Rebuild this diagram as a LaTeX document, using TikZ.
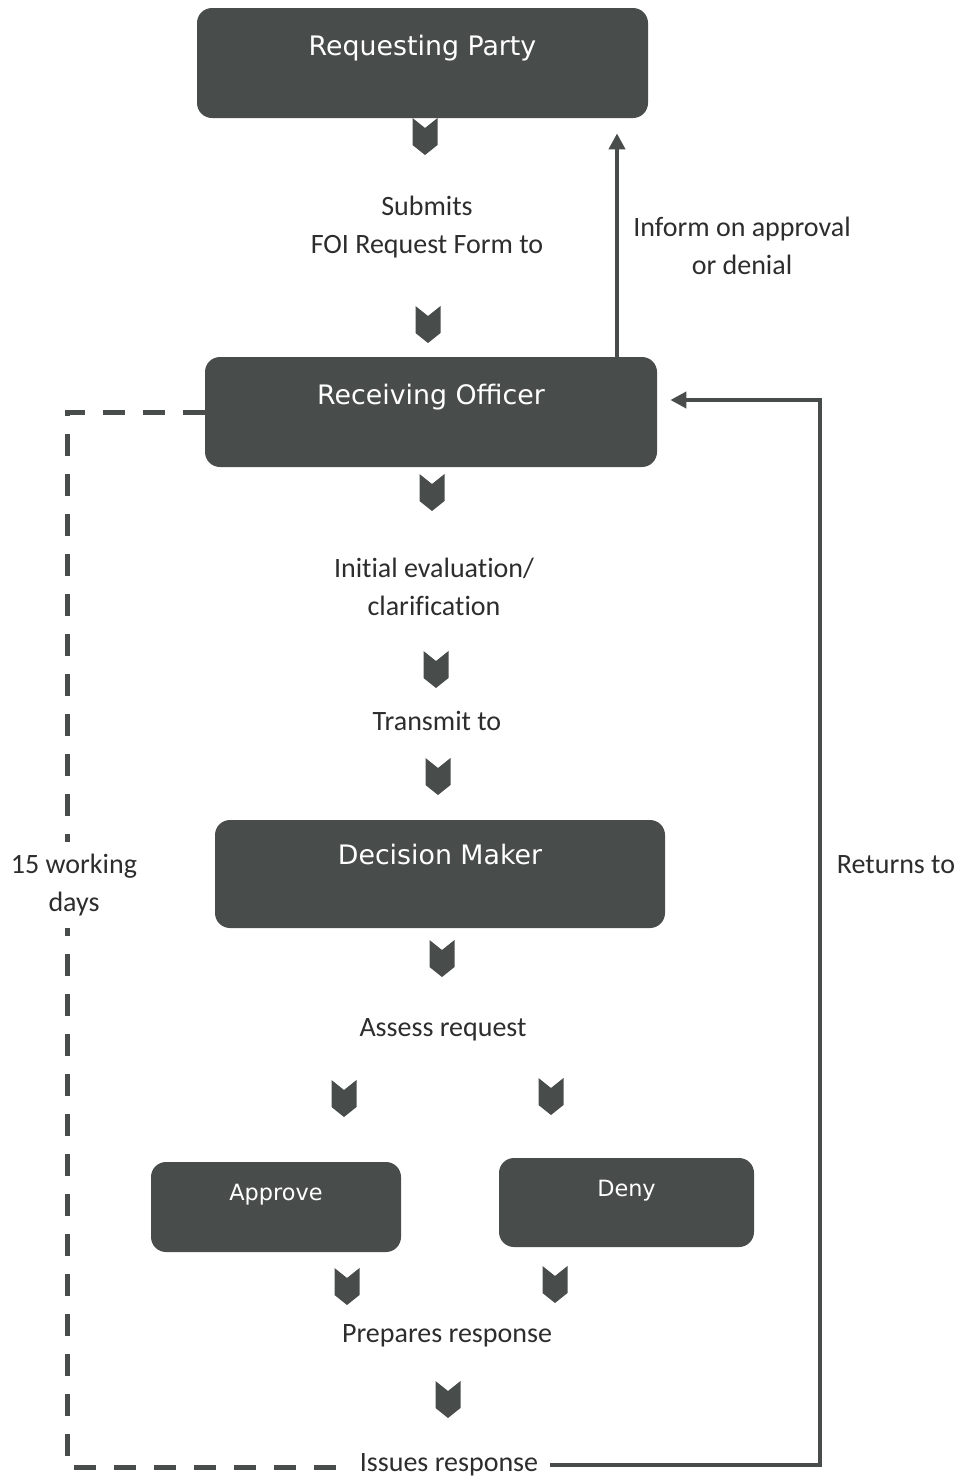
\documentclass[tikz,border=0pt]{standalone}
\usepackage{fontspec}
\setmainfont[Ligatures=NoCommon]{Carlito}
\newfontfamily\boxfont{DejaVu Sans}
\usetikzlibrary{arrows.meta}
\definecolor{boxc}{RGB}{72,77,75}
\definecolor{ink}{RGB}{45,45,45}
\tikzset{
  bigbox/.style={fill=boxc, rounded corners=7.5pt, text=white, font=\boxfont\fontsize{13.4}{15}\selectfont,
    minimum width=#1, inner ysep=0pt, text height=23.5pt, text depth=31.5pt},
  smallbox/.style={fill=boxc, rounded corners=7.5pt, text=white, font=\boxfont\fontsize{11.2}{13}\selectfont,
    minimum width=#1, inner ysep=0pt, text height=19pt, text depth=26pt},
  lbl/.style={text=ink, align=center, font=\fontsize{14}{19}\selectfont, inner sep=2pt},
  solidline/.style={draw=boxc, line width=2pt, -{Triangle[width=8pt,length=8pt]}},
  dashline/.style={draw=boxc, line width=2.5pt, dash pattern=on 11pt off 9pt},
  chev/.pic={\fill[boxc] (-12.5,0) -- (0,10) -- (12.5,0) -- (12.5,27) -- (0,37) -- (-12.5,27) -- cycle;}
}
\begin{document}
\begin{tikzpicture}[x=0.5pt,y=-0.5pt]
\useasboundingbox[fill=white] (0,0) rectangle (963,1478);

% boxes
\node[bigbox=225.5pt] (rp) at (422.5,63) {Requesting Party};
\node[bigbox=226pt] (ro) at (431,412) {Receiving Officer};
\node[bigbox=225pt, text height=22pt, text depth=32pt] (dm) at (440,874) {Decision Maker};
\node[smallbox=125pt] (ap) at (276,1207) {Approve};
\node[smallbox=127.5pt, text depth=25.5pt] (dn) at (626.5,1202.5) {Deny};

% labels
\node[lbl] (l1) at (427,227) {Submits\\FOI Request Form to};
\node[lbl] (l2) at (742,246) {Inform on approval\\or denial};
\node[lbl] (l3) at (434,587) {Initial evaluation/\\clarification};
\node[lbl] (l4) at (437,721) {Transmit to};
\node[lbl] (l5) at (443,1030) {Assess request};
\node[lbl] (l6) at (447,1336) {Prepares response};
\node[lbl, inner xsep=5.5pt] (ir) at (449,1465) {Issues response};
\node[lbl] (l8) at (896,865) {Returns to};

% chevrons
\pic at (425,118) {chev};
\pic at (428,306) {chev};
\pic at (432,474) {chev};
\pic at (436,651) {chev};
\pic at (438,758) {chev};
\pic at (442,940) {chev};
\pic at (344,1080) {chev};
\pic at (551,1078) {chev};
\pic at (347,1268) {chev};
\pic at (555,1266) {chev};
\pic at (448,1381) {chev};

% up arrow
\coordinate (ua) at (617,0);
\draw[solidline, shorten >=7.5pt] (ro.north -| ua) -- (rp.south -| ua);

% returns loop
\coordinate (rt) at (820,400);
\coordinate (rb) at (820,1465);
\draw[solidline, shorten >=6.5pt] (ir.east) -- (rb) -- (rt) -- (ro.east |- rt);

% dashed 15 working days loop
\coordinate (d1) at (67,412);
\coordinate (d2) at (67,1467);
\draw[dashline] (ro.west) -- (d1) -- (d2) -- (ir.west |- d2);
\node[lbl, fill=white, inner ysep=6pt] (l7) at (74,885) {15 working\\days};
\end{tikzpicture}
\end{document}
